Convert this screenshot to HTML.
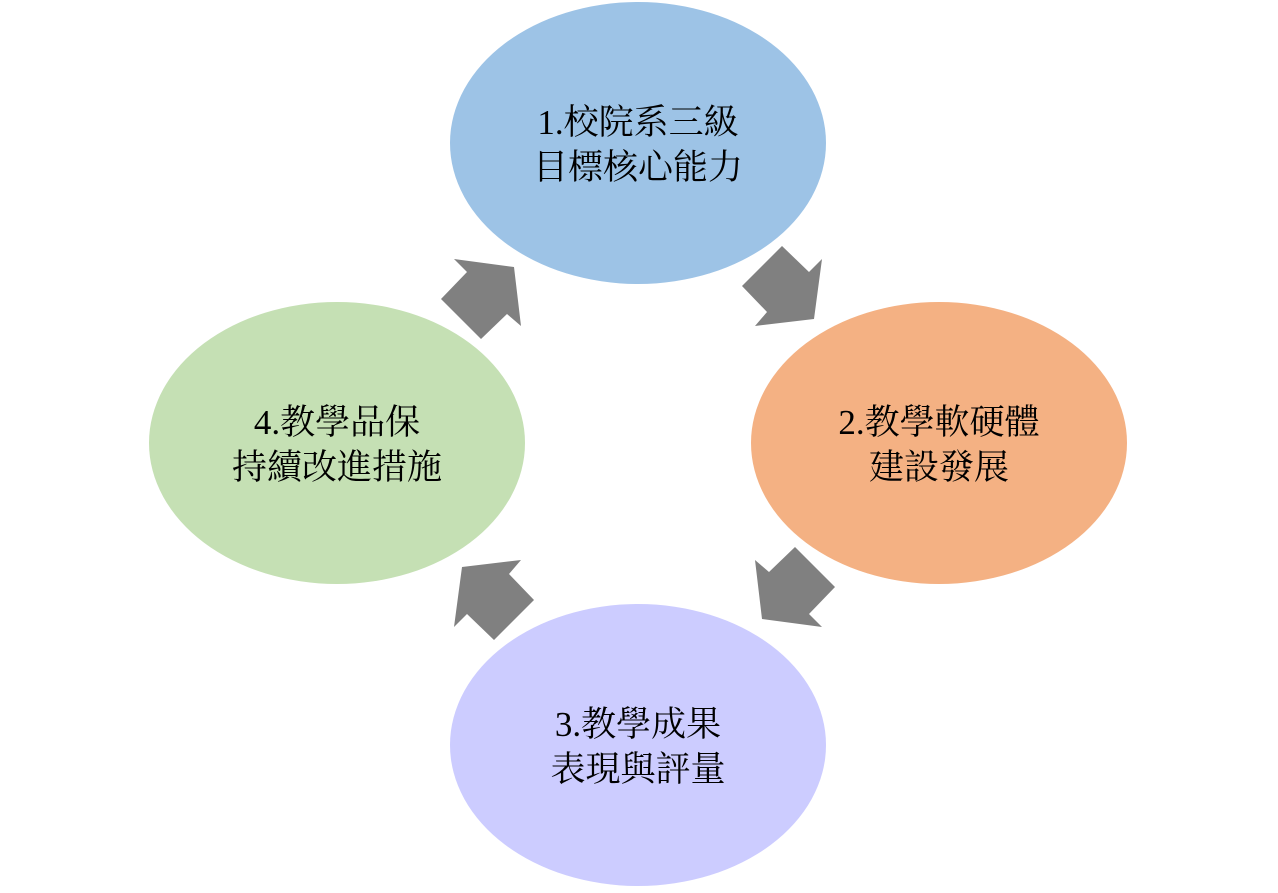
<!DOCTYPE html>
<html><head><meta charset="utf-8"><style>
html,body{margin:0;padding:0;background:#fff}
svg text{font-family:"Liberation Serif","Noto Serif CJK SC","Noto Serif CJK TC",serif;font-size:35px;fill:#000;text-anchor:middle}
</style></head><body>
<svg width="1278" height="888" viewBox="0 0 1278 888" xmlns="http://www.w3.org/2000/svg">
<ellipse cx="638" cy="143" rx="188" ry="141" fill="#9dc3e6"/>
<ellipse cx="939" cy="443" rx="188" ry="141" fill="#f4b183"/>
<ellipse cx="638" cy="745" rx="188" ry="141" fill="#ccccff"/>
<ellipse cx="337" cy="443" rx="188" ry="141" fill="#c5e0b4"/>
<g fill="#808080">
<polygon points="782,246 809,272 822,259 814,319 755,326 767,312 742,286"/>
<polygon points="835,587 809,614 822,627 762,619 755,560 769,572 795,547"/>
<polygon points="494,640 467,614 454,627 462,567 521,560 509,574 534,600"/>
<polygon points="441,299 467,272 454,259 514,267 521,326 507,314 481,339"/>
</g>
<text x="638" y="134">1.校院系三級</text>
<text x="638" y="179">目標核心能力</text>
<text x="939" y="434">2.教學軟硬體</text>
<text x="939" y="479">建設發展</text>
<text x="638" y="736">3.教學成果</text>
<text x="638" y="781">表現與評量</text>
<text x="337" y="434">4.教學品保</text>
<text x="337" y="479">持續改進措施</text>
</svg>
</body></html>
